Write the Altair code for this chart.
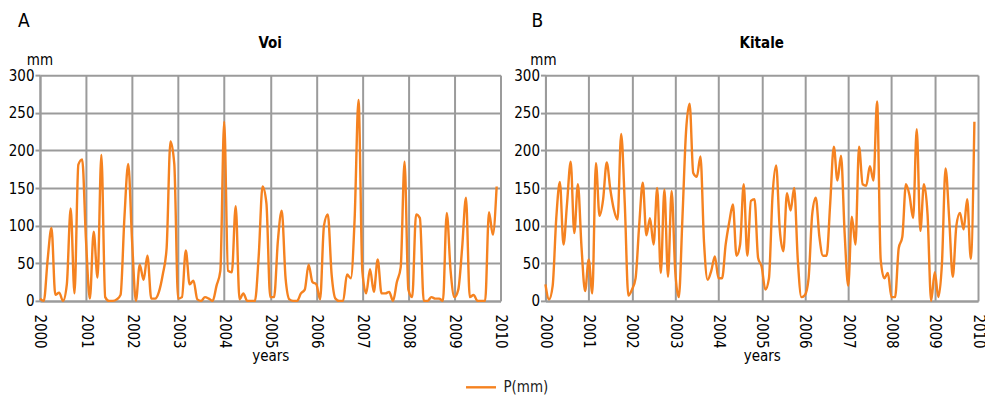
import altair as alt
import pandas as pd

# ---- data (monthly precipitation) ----
months = list(range(120))  # Jan 2000 ... Dec 2009

voi_mm = [
    3, 0, 55, 97, 8, 11, 0, 22, 123, 10, 181, 188,
    80, 3, 92, 31, 194, 5, 0, 0, 2, 8, 110, 182,
    80, 0, 48, 28, 60, 3, 3, 12, 35, 70, 212, 182,
    3, 5, 67, 22, 27, 2, 0, 5, 3, 0, 20, 40,
    238, 40, 38, 126, 2, 10, 0, 0, 0, 60, 152, 130,
    5, 5, 80, 120, 30, 2, 0, 0, 10, 15, 48, 25,
    22, 2, 100, 115, 35, 3, 0, 0, 35, 30, 110, 267,
    40, 10, 42, 12, 55, 10, 10, 12, 0, 25, 45, 185,
    15, 5, 115, 110, 0, 0, 5, 3, 3, 0, 117, 40,
    5, 15, 70, 137, 5, 8, 0, 0, 0, 118, 88, 152,
]

kitale_mm = [
    22, 2, 20, 110, 158, 75, 130, 185, 90, 155, 72, 13,
    55, 10, 183, 113, 135, 184, 148, 121, 108, 222, 130, 7,
    15, 30, 100, 157, 87, 110, 75, 150, 37, 148, 32, 146,
    40, 5, 110, 225, 262, 170, 165, 192, 77, 28, 40, 59,
    30, 30, 75, 105, 128, 60, 75, 155, 60, 133, 135, 57,
    45, 15, 30, 140, 180, 95, 66, 143, 120, 150, 55, 5,
    8, 30, 115, 137, 85, 60, 60, 130, 205, 160, 193, 90,
    20, 112, 75, 205, 155, 153, 179, 160, 265, 55, 30, 37,
    5, 5, 70, 85, 155, 140, 110, 228, 93, 155, 115, 0,
    38, 5, 50, 176, 110, 32, 100, 117, 95, 135, 56, 238,
]

year_ticks = list(range(2000, 2011))
mm_ticks = [0, 50, 100, 150, 200, 250, 300]
series_name = "P(mm)"
panel_names = ["Voi", "Kitale"]
panel_letters = ["A", "B"]

FONT = "DejaVu Sans Condensed"
GRID = "#9b9b9b"
ORANGE = "#F58220"
PLOT_H = 226


def panel(values, name, letter, width, letter_dx, mm_dx):
    df = pd.DataFrame({
        "year": [2000 + m / 12 for m in months],
        "p": values,
        "series": series_name,
    })
    line = alt.Chart(df).mark_line(interpolate="monotone", strokeWidth=2.4).encode(
        x=alt.X(
            "year:Q",
            scale=alt.Scale(domain=[2000, 2010], nice=False, zero=False),
            axis=alt.Axis(
                values=year_ticks, format="d", labelAngle=90, labelAlign="left",
                labelBaseline="middle", title="years", tickSize=0, labelPadding=13,
                titlePadding=0, titleFontWeight="normal",
            ),
        ),
        y=alt.Y(
            "p:Q",
            scale=alt.Scale(domain=[0, 300], nice=False),
            axis=alt.Axis(values=mm_ticks, title=None, tickSize=5, labelPadding=1),
        ),
        color=alt.Color(
            "series:N",
            scale=alt.Scale(domain=[series_name], range=[ORANGE]),
            legend=alt.Legend(
                title=None, orient="none", legendX=425, legendY=296,
                symbolType="stroke", symbolStrokeWidth=2.4, symbolSize=900,
                labelFont=FONT, labelFontSize=15, labelColor="#222",
                labelOffset=6,
            ),
        ),
    )
    title = alt.Chart(pd.DataFrame({"label": [name]})).mark_text(
        font=FONT, fontSize=15, fontWeight="bold", baseline="alphabetic", color="#000"
    ).encode(text="label:N", x=alt.value(width / 2), y=alt.value(-27))
    mm = alt.Chart(pd.DataFrame({"label": ["mm"]})).mark_text(
        font=FONT, fontSize=15, baseline="alphabetic", color="#000"
    ).encode(text="label:N", x=alt.value(mm_dx), y=alt.value(-10))
    let = alt.Chart(pd.DataFrame({"label": [letter]})).mark_text(
        font=FONT, fontSize=19, baseline="alphabetic", align="left", color="#000"
    ).encode(text="label:N", x=alt.value(letter_dx), y=alt.value(-48))
    return alt.layer(line, title, mm, let).properties(width=width, height=PLOT_H)


left = panel(voi_mm, panel_names[0], panel_letters[0], 461, -22, 0)
right = panel(kitale_mm, panel_names[1], panel_letters[1], 433, -14, -2)

chart = alt.hconcat(left, right, spacing=5).properties(
    padding={"left": 0, "top": 4, "right": 0, "bottom": 0}
).configure_view(stroke=None).configure_axis(
    gridColor=GRID, gridWidth=2, domainColor=GRID, domainWidth=2,
    tickColor=GRID, tickWidth=2, labelFont=FONT, labelFontSize=15,
    labelColor="#000", titleFont=FONT, titleFontSize=15, titleColor="#000",
).configure_text(font=FONT)

chart.save("out.html", embed_options={"renderer": "svg", "actions": False})
